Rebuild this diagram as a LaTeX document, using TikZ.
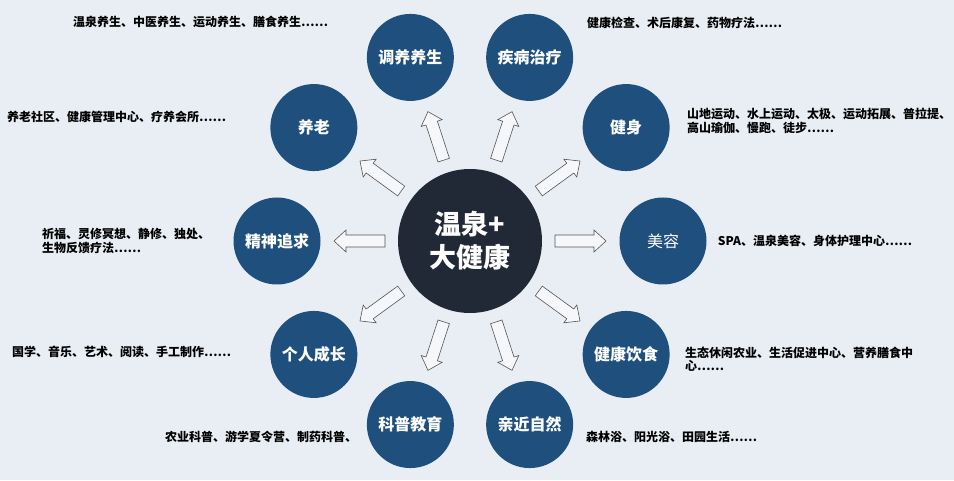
\documentclass[tikz,border=0pt]{standalone}
\usepackage{fontspec}
\setmainfont{Noto Sans CJK SC}
\definecolor{hubnavy}{RGB}{34,41,54}
\definecolor{topicblue}{RGB}{31,79,125}
\definecolor{paper}{RGB}{232,238,244}
\definecolor{arrowline}{RGB}{85,85,85}
\usetikzlibrary{positioning}
\tikzset{
  topic/.style={circle, fill=topicblue, text=white, minimum size=87pt, inner sep=0pt,
    font=\fontsize{16}{18}\selectfont\bfseries},
  flowarrow/.style={draw=arrowline, fill=white!55!paper, line width=0.6pt, line join=miter},
  note/.style={anchor=west, align=left, inner sep=0pt, text=black,
    font=\fontsize{12}{13.5}\selectfont\bfseries}
}

\begin{document}
\begin{tikzpicture}[x=1pt,y=1pt]
  \fill [paper] (0,0) rectangle (954,480);
  \useasboundingbox (0,0) rectangle (954,480);

  \node [circle, fill=hubnavy, text=white, minimum size=144pt, inner sep=0pt, align=center,
    font=\fontsize{27}{33}\selectfont\bfseries] (hub) at (470,239) {温泉+\\大健康};

  \foreach \ang/\nm/\txt in {108/tyys/调养养生, 72/jbzl/疾病治疗, 36/js/健身,
    0/mr/{\mdseries 美容}, -36/jkys/健康饮食, -72/qjzr/亲近自然, -108/kpjy/科普教育,
    -144/grcz/个人成长, 180/jszq/精神追求, 144/yl/养老}
  {
    \node [topic] (\nm) at ([shift={(\ang:193pt)}]hub) {\txt};
    \draw [flowarrow, shift={(hub.center)}, rotate=\ang]
      (85,-6) -- (124,-6) -- (124,-11) -- (136,0) -- (124,11) -- (124,6) -- (85,6) -- cycle;
  }

  \node [note] (ntyys) at (73,458) {温泉养生、中医养生、运动养生、膳食养生……};
  \node [note] (njbzl) at (587,457) {健康检查、术后康复、药物疗法……};
  \node [note] (nyl) at (7,363) {养老社区、健康管理中心、疗养会所……};
  \node [note] (njs) at (687,359) {山地运动、水上运动、太极、运动拓展、普拉提、\\高山瑜伽、慢跑、徒步……};
  \node [note] (njszq) at (42,239) {祈福、灵修冥想、静修、独处、\\生物反馈疗法……};
  \node [note, right=11pt of mr] (nmr) {SPA、温泉美容、身体护理中心……};
  \node [note] (ngrcz) at (12,128) {国学、音乐、艺术、阅读、手工制作……};
  \node [note] (njkys) at (685,121) {生态休闲农业、生活促进中心、营养膳食中\\心……};
  \node [note] (nkpjy) at (165,43) {农业科普、游学夏令营、制药科普、};
  \node [note] (nqjzr) at (586,43) {森林浴、阳光浴、田园生活……};
\end{tikzpicture}
\end{document}
